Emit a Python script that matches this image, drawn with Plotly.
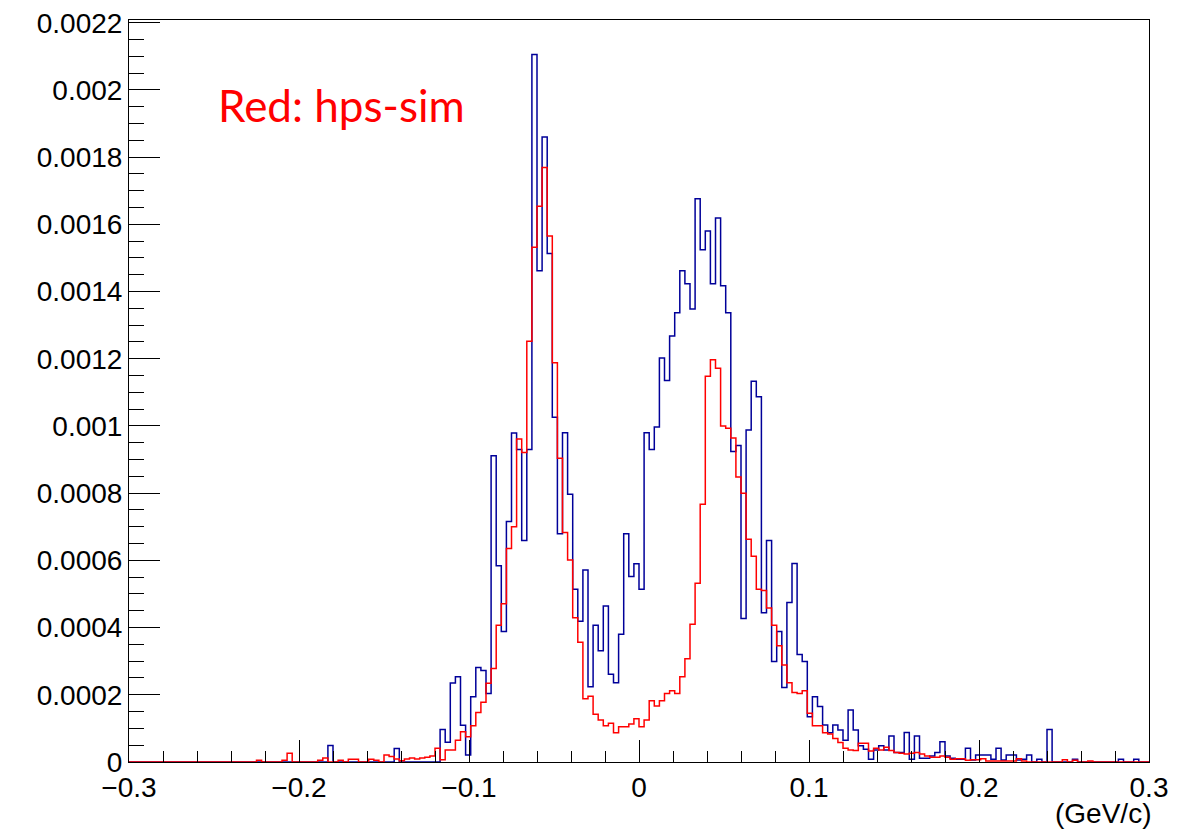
import numpy as np
import plotly.graph_objects as go

# Histogram binning (200 bins from -0.3 to 0.3 GeV/c)
bin_lo = -0.3
bin_hi = 0.3
n_bins = 200

# Bin contents, in units of 1e-4
data_blue = [
    0, 0, 0, 0, 0, 0, 0, 0, 0, 0,
    0, 0, 0, 0, 0, 0, 0, 0, 0, 0,
    0, 0, 0, 0, 0, 0, 0, 0, 0, 0,
    0, 0, 0, 0, 0, 0, 0, 0, 0, 0.49,
    0, 0, 0, 0, 0, 0, 0, 0, 0, 0,
    0, 0, 0.40, 0, 0, 0, 0, 0, 0, 0,
    0, 0.97, 0.59, 2.35, 2.54, 1.09, 0.21, 1.94, 2.81, 2.72,
    2.04, 9.11, 5.84, 3.88, 7.16, 9.79, 9.30, 6.59, 9.30, 21.05,
    14.62, 18.60, 15.13, 10.26, 6.79, 9.80, 7.97, 5.14, 4.19, 5.71,
    2.24, 4.07, 3.31, 4.64, 2.61, 2.36, 3.80, 6.79, 5.52, 5.90,
    5.14, 9.80, 9.30, 9.97, 12.02, 11.35, 12.68, 13.37, 14.62, 14.23,
    13.48, 16.76, 15.24, 15.80, 14.23, 16.19, 14.17, 13.37, 9.24, 9.42,
    4.27, 9.88, 11.33, 10.87, 4.44, 6.59, 2.99, 3.88, 2.22, 4.75,
    5.91, 3.20, 2.99, 1.35, 1.94, 1.65, 1.10, 0.87, 1.10, 0.95,
    0.65, 1.55, 0.95, 0.48, 0.38, 0.08, 0.36, 0.48, 0.36, 0.77,
    0.28, 0.28, 0.88, 0.08, 0.77, 0.11, 0.11, 0.18, 0.28, 0.60,
    0.18, 0.11, 0.08, 0.08, 0.41, 0.06, 0.21, 0.21, 0.21, 0.08,
    0.41, 0.06, 0.21, 0.21, 0.06, 0.08, 0.21, 0, 0.08, 0,
    0.97, 0, 0, 0, 0, 0.08, 0, 0, 0, 0,
    0, 0, 0, 0, 0.08, 0, 0, 0.08, 0, 0,
]

sim_red = [
    0, 0, 0, 0, 0, 0, 0, 0, 0, 0,
    0, 0, 0, 0, 0, 0, 0, 0, 0, 0,
    0, 0, 0, 0, 0, 0.05, 0, 0, 0, 0,
    0.05, 0.26, 0, 0, 0, 0, 0, 0.05, 0.12, 0,
    0, 0.05, 0, 0.08, 0.08, 0, 0, 0.08, 0.05, 0,
    0.21, 0.16, 0.09, 0.04, 0.09, 0.12, 0.09, 0.12, 0.14, 0.18,
    0.41, 0.07, 0.36, 0.36, 0.65, 0.90, 0.75, 1.08, 1.47, 1.78,
    2.34, 2.78, 4.07, 4.71, 6.35, 7.00, 9.61, 9.21, 12.52, 15.32,
    16.54, 17.69, 15.65, 11.88, 9.04, 6.83, 6.01, 4.29, 3.56, 1.88,
    1.96, 1.42, 1.25, 1.08, 1.15, 0.87, 1.05, 1.05, 1.13, 1.29,
    1.05, 1.25, 1.82, 1.67, 1.82, 2.04, 2.12, 2.04, 2.54, 3.07,
    4.10, 5.32, 7.67, 11.48, 11.97, 11.72, 10.00, 9.93, 9.64, 8.48,
    8.00, 6.63, 6.12, 5.14, 5.10, 4.58, 4.07, 3.46, 2.89, 2.36,
    2.07, 2.04, 2.12, 1.45, 1.08, 1.08, 0.87, 0.83, 0.70, 0.58,
    0.41, 0.36, 0.34, 0.56, 0.56, 0.33, 0.41, 0.36, 0.44, 0.34,
    0.28, 0.26, 0.24, 0.26, 0.28, 0.24, 0.18, 0.14, 0.14, 0.18,
    0.14, 0.08, 0.10, 0.10, 0.05, 0.07, 0.07, 0.10, 0.03, 0.03,
    0.03, 0.03, 0.03, 0.03, 0.10, 0.03, 0, 0, 0, 0,
    0, 0, 0, 0.07, 0, 0.05, 0, 0, 0.03, 0,
    0, 0, 0, 0, 0, 0, 0, 0, 0, 0,
]
value_scale = 1e-4

x_tick_vals = [-0.3, -0.2, -0.1, 0, 0.1, 0.2, 0.3]
x_tick_text = ["\u22120.3", "\u22120.2", "\u22120.1", "0", "0.1", "0.2", "0.3"]
y_tick_vals = [0, 0.0002, 0.0004, 0.0006, 0.0008, 0.001, 0.0012, 0.0014,
               0.0016, 0.0018, 0.002, 0.0022]
y_tick_text = ["0", "0.0002", "0.0004", "0.0006", "0.0008", "0.001", "0.0012",
               "0.0014", "0.0016", "0.0018", "0.002", "0.0022"]

edges = np.linspace(bin_lo, bin_hi, n_bins + 1)


def step_xy(vals):
    y = np.array(vals, dtype=float) * value_scale
    ys = np.concatenate([y, y[-1:]])
    return edges, ys


fig = go.Figure()
bx, by = step_xy(data_blue)
fig.add_trace(go.Scatter(x=bx, y=by, mode="lines", line_shape="hv",
                         line=dict(color="#000099", width=1.5),
                         showlegend=False, hoverinfo="skip"))
rx, ry = step_xy(sim_red)
fig.add_trace(go.Scatter(x=rx, y=ry, mode="lines", line_shape="hv",
                         line=dict(color="#ff0000", width=1.5),
                         showlegend=False, hoverinfo="skip"))

tick_font = dict(family="Liberation Sans, Arial, sans-serif", size=28, color="black")

fig.update_layout(
    width=1178, height=832,
    margin=dict(l=129, r=29, t=20, b=70),
    paper_bgcolor="white", plot_bgcolor="white",
    font=tick_font,
    xaxis=dict(
        range=[bin_lo, bin_hi], tickvals=x_tick_vals, ticktext=x_tick_text,
        ticks="inside", ticklen=22, tickwidth=1, tickcolor="black",
        showline=True, linecolor="black", linewidth=1, mirror=True,
        showgrid=False, zeroline=False, tickfont=tick_font, automargin=False,
        minor=dict(dtick=0.02, tick0=-0.3, ticks="inside", ticklen=11,
                   tickwidth=1, tickcolor="black", showgrid=False),
    ),
    yaxis=dict(
        range=[0, 0.002208], tickvals=y_tick_vals, ticktext=y_tick_text,
        ticks="inside", ticklen=31, tickwidth=1, tickcolor="black",
        showline=True, linecolor="black", linewidth=1, mirror=True,
        showgrid=False, zeroline=False, tickfont=tick_font, automargin=False,
        minor=dict(dtick=0.00005, tick0=0, ticks="inside", ticklen=15,
                   tickwidth=1, tickcolor="black", showgrid=False),
    ),
    annotations=[
        dict(text="(GeV/c)", xref="paper", yref="paper", x=1.004, y=-0.07,
             xanchor="right", yanchor="middle", showarrow=False,
             font=dict(family="Liberation Sans, Arial, sans-serif", size=28, color="black")),
        dict(text="Red: hps-sim", xref="paper", yref="paper", x=0.085, y=0.885,
             xanchor="left", yanchor="middle", showarrow=False,
             font=dict(family="Lato, Open Sans, sans-serif", size=44, color="#ff0000")),
    ],
)

fig.write_html(
    "out.html",
    config={"displayModeBar": False},
    post_script="document.body.style.margin='0';document.body.style.overflow='hidden';",
)
